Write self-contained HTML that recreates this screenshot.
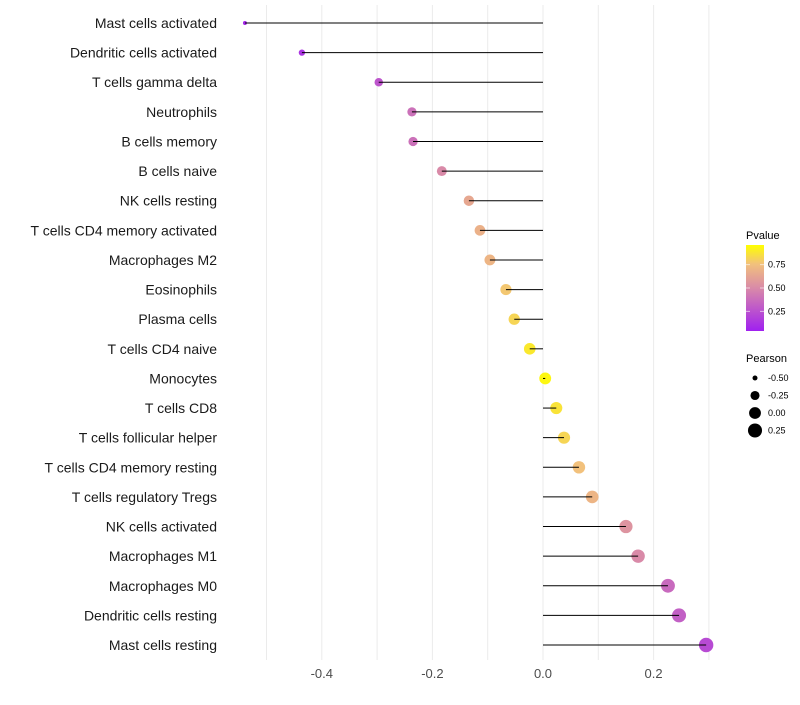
<!DOCTYPE html>
<html><head><meta charset="utf-8"><style>
body{margin:0;background:#fff;font-family:"Liberation Sans",sans-serif}
</style></head><body>
<svg id="c" width="800" height="700" xmlns="http://www.w3.org/2000/svg">
<defs><linearGradient id="pg" x1="0" y1="1" x2="0" y2="0">
<stop offset="0" stop-color="#a020f0"/><stop offset="0.5" stop-color="#d98aa8"/><stop offset="0.78" stop-color="#f2c17c"/><stop offset="1" stop-color="#ffff00"/></linearGradient></defs>
</svg>
<script>
const categories=["Mast cells activated","Dendritic cells activated","T cells gamma delta","Neutrophils","B cells memory","B cells naive","NK cells resting","T cells CD4 memory activated","Macrophages M2","Eosinophils","Plasma cells","T cells CD4 naive","Monocytes","T cells CD8","T cells follicular helper","T cells CD4 memory resting","T cells regulatory  Tregs ","NK cells activated","Macrophages M1","Macrophages M0","Dendritic cells resting","Mast cells resting"];
const pearson=[-0.539,-0.436,-0.297,-0.237,-0.235,-0.183,-0.134,-0.114,-0.096,-0.067,-0.052,-0.024,0.004,0.024,0.038,0.065,0.089,0.150,0.172,0.226,0.246,0.295];
const pvalue=[0.04,0.1,0.25,0.38,0.38,0.5,0.65,0.7,0.72,0.8,0.85,0.92,0.97,0.9,0.85,0.78,0.72,0.55,0.5,0.35,0.3,0.2];
const xTicks=[-0.4,-0.2,0,0.2];
const gridVals=[-0.5,-0.4,-0.3,-0.2,-0.1,0,0.1,0.2,0.3];
const legendP=[0.25,0.5,0.75];
const legendS=[-0.5,-0.25,0,0.25];
const svg=document.getElementById('c');const NS='http://www.w3.org/2000/svg';
const X=v=>543+v*553, Y=i=>23+i*29.62;
const R=v=>Math.sqrt(Math.max(1,35+57.5*v));
const stops=[[0,[160,32,240]],[0.5,[217,138,168]],[0.78,[242,193,124]],[1,[255,255,0]]];
function col(p){for(let k=1;k<stops.length;k++){if(p<=stops[k][0]){const a=stops[k-1],b=stops[k],t=(p-a[0])/(b[0]-a[0]);return 'rgb('+a[1].map((c,j)=>Math.round(c+(b[1][j]-c)*t)).join(',')+')';}}return 'rgb(255,255,0)';}
function el(t,a,txt){const e=document.createElementNS(NS,t);for(const k in a)e.setAttribute(k,a[k]);if(txt!==undefined)e.textContent=txt;svg.appendChild(e);return e;}
gridVals.forEach(v=>{const g=el('line',{x1:X(v),x2:X(v),y1:5,y2:660,stroke:'#ebebeb','stroke-width':1});

});
xTicks.forEach(v=>{const t=el('text',{x:X(v),y:678,'text-anchor':'middle','font-size':13,fill:'#4d4d4d'},v===0?'0.0':v.toFixed(1));

});
categories.forEach((c,i)=>{
const t=el('text',{x:217,y:Y(i)+5,'text-anchor':'end','font-size':14,fill:'#1a1a1a'},c);


const p=el('circle',{cx:X(pearson[i]),cy:Y(i),r:R(pearson[i]),fill:col(pvalue[i])});


const l=el('line',{x1:X(pearson[i]),x2:X(0),y1:Y(i),y2:Y(i),stroke:'#000','stroke-width':1});


});
const pt=el('text',{x:746,y:239,'font-size':11},'Pvalue');


const cb=el('rect',{x:746,y:245,width:18,height:86,fill:'url(#pg)'});


const pY=p=>331-(p-0.04)/0.92*86;
legendP.forEach(p=>{el('line',{x1:746,x2:750,y1:pY(p),y2:pY(p),stroke:'#fff','stroke-opacity':0.6});el('line',{x1:760,x2:764,y1:pY(p),y2:pY(p),stroke:'#fff','stroke-opacity':0.6});
const t=el('text',{x:768,y:pY(p)+3,'font-size':9},p.toFixed(2));

});
const st=el('text',{x:746,y:362,'font-size':11},'Pearson');


legendS.forEach((v,k)=>{const y=378+k*17.5;
const c=el('circle',{cx:755,cy:y,r:R(v),fill:'#000'});


const t=el('text',{x:768,y:y+3,'font-size':9},v.toFixed(2));

});
</script>
</body></html>
